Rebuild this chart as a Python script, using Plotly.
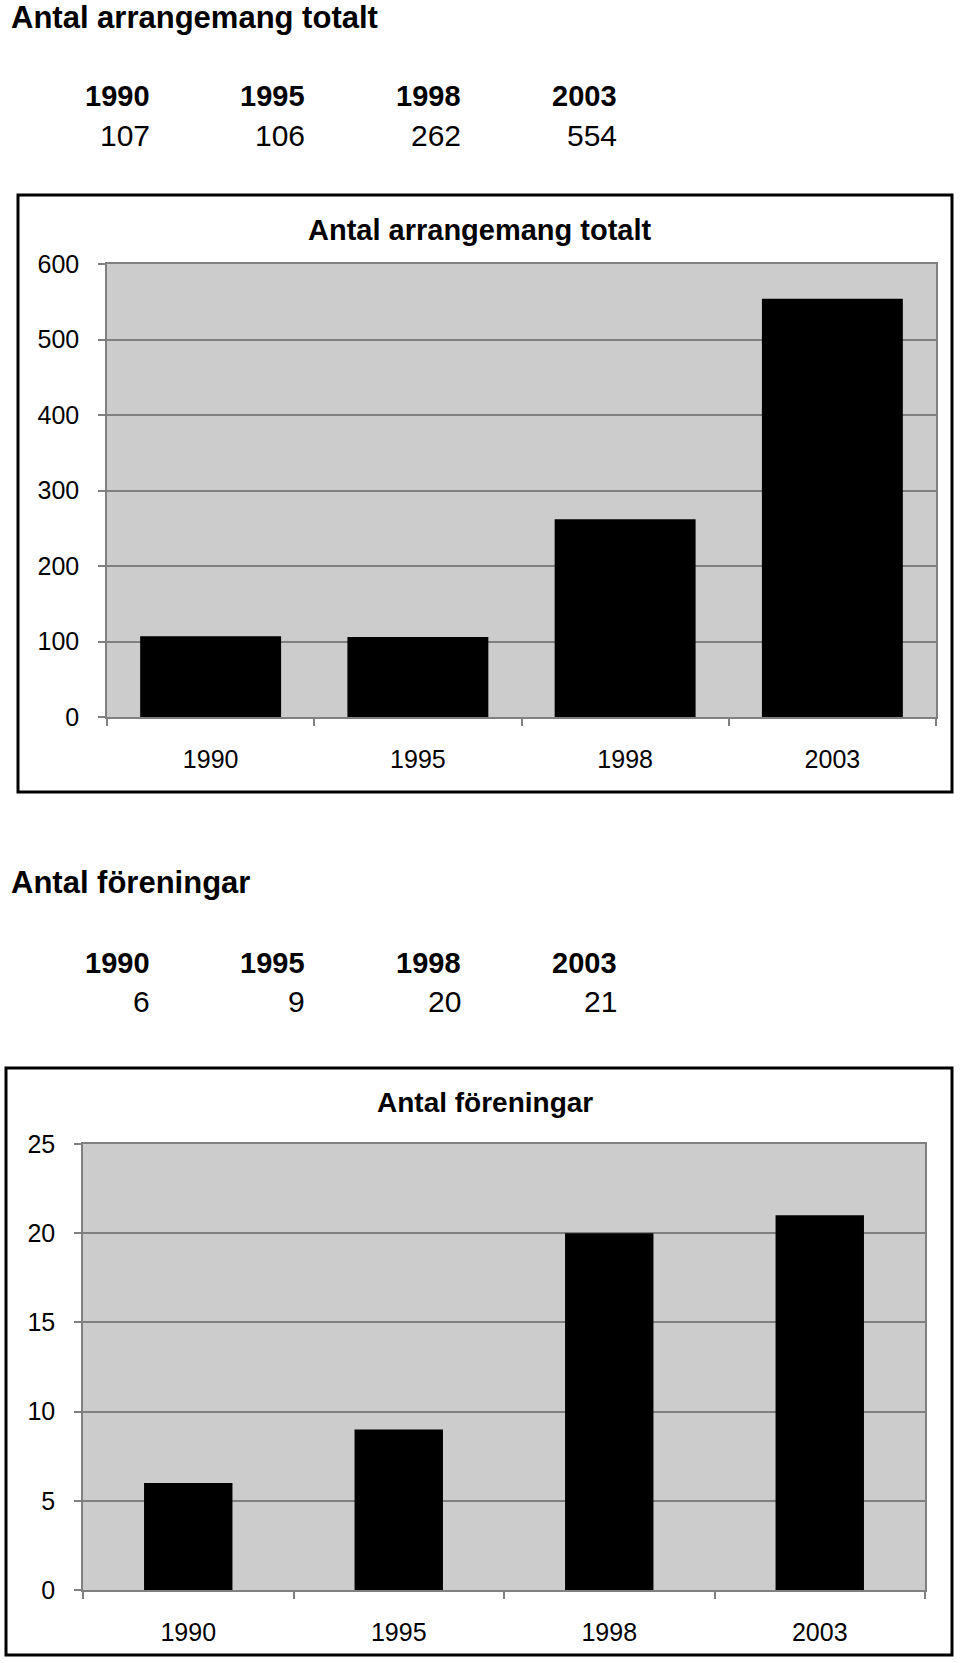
import plotly.graph_objects as go

# ---- data ----
years = ["1990", "1995", "1998", "2003"]
arrangemang = [107, 106, 262, 554]
foreningar = [6, 9, 20, 21]

header1 = "Antal arrangemang totalt"
header2 = "Antal föreningar"
title1 = "Antal arrangemang totalt"
title2 = "Antal föreningar"

W, H = 960, 1663
FONT = "Liberation Sans, Arial, sans-serif"


def px(x):
    return x / W


def py(y):
    return 1 - y / H


fig = go.Figure()
fig.add_trace(go.Bar(x=years, y=arrangemang, marker=dict(color="black", line=dict(width=0)),
                     width=0.68, xaxis="x", yaxis="y", hoverinfo="x+y"))
fig.add_trace(go.Bar(x=years, y=foreningar, marker=dict(color="black", line=dict(width=0)),
                     width=0.42, xaxis="x2", yaxis="y2", hoverinfo="x+y"))

axis_common_x = dict(type="category", tickson="boundaries", ticks="outside", ticklen=7,
                     tickcolor="#808080", tickwidth=1.5, showline=True, linecolor="#808080",
                     linewidth=1.5, mirror=True, showgrid=False, range=[-0.5, 3.5],
                     automargin=False,
                     tickfont=dict(family=FONT, size=25, color="black"), fixedrange=True)
axis_common_y = dict(ticks="outside", ticklen=7, tickcolor="#808080", tickwidth=1.5,
                     showline=True, linecolor="#808080", linewidth=1.5, mirror=True,
                     showgrid=True, gridcolor="#808080", gridwidth=1.5, zeroline=False,
                     automargin=False,
                     tickfont=dict(family=FONT, size=25, color="black"), fixedrange=True)

annotations = []
# section headers
annotations.append(dict(text="<b>%s</b>" % header1, x=px(9), y=py(18), xref="paper", yref="paper",
                        xanchor="left", yanchor="middle", showarrow=False,
                        font=dict(family=FONT, size=31, color="black")))
annotations.append(dict(text="<b>%s</b>" % header2, x=px(9), y=py(883), xref="paper", yref="paper",
                        xanchor="left", yanchor="middle", showarrow=False,
                        font=dict(family=FONT, size=31, color="black")))
# year / value tables
right_edges = [152, 307, 463, 619]
for vals, yr_y, val_y in [(arrangemang, 96, 135), (foreningar, 963, 1002)]:
    for xr, yr, v in zip(right_edges, years, vals):
        annotations.append(dict(text="<b>%s</b>" % yr, x=px(xr), y=py(yr_y), xref="paper",
                                yref="paper", xanchor="right", yanchor="middle", showarrow=False,
                                font=dict(family=FONT, size=29, color="black")))
        annotations.append(dict(text=str(v), x=px(xr), y=py(val_y), xref="paper",
                                yref="paper", xanchor="right", yanchor="middle", showarrow=False,
                                font=dict(family=FONT, size=30, color="black")))
# chart titles
annotations.append(dict(text="<b>%s</b>" % title1, x=px(480), y=py(230), xref="paper", yref="paper",
                        xanchor="center", yanchor="middle", showarrow=False,
                        font=dict(family=FONT, size=29, color="black")))
annotations.append(dict(text="<b>%s</b>" % title2, x=px(485), y=py(1102), xref="paper", yref="paper",
                        xanchor="center", yanchor="middle", showarrow=False,
                        font=dict(family=FONT, size=28, color="black")))

shapes = [
    dict(type="rect", xref="paper", yref="paper", x0=px(18), x1=px(952), y0=py(792), y1=py(195),
         line=dict(color="black", width=3), layer="above"),
    dict(type="rect", xref="paper", yref="paper", x0=px(6), x1=px(952), y0=py(1655), y1=py(1068),
         line=dict(color="black", width=3), layer="above"),
]

fig.update_layout(
    width=W, height=H, margin=dict(l=0, r=0, t=0, b=0, pad=0, autoexpand=False),
    paper_bgcolor="white", plot_bgcolor="#cccccc", showlegend=False,
    font=dict(family=FONT, color="black"),
    xaxis=dict(domain=[px(107), px(936)], anchor="y", ticklabelstandoff=19, **axis_common_x),
    yaxis=dict(domain=[py(717), py(264)], anchor="x", range=[0, 600], dtick=100,
               ticklabelstandoff=14, **axis_common_y),
    xaxis2=dict(domain=[px(83), px(925)], anchor="y2", ticklabelstandoff=19, **axis_common_x),
    yaxis2=dict(domain=[py(1590), py(1144)], anchor="x2", range=[0, 25], dtick=5,
                ticklabelstandoff=14, **axis_common_y),
    annotations=annotations, shapes=shapes,
)

fig.write_html("out.html")
